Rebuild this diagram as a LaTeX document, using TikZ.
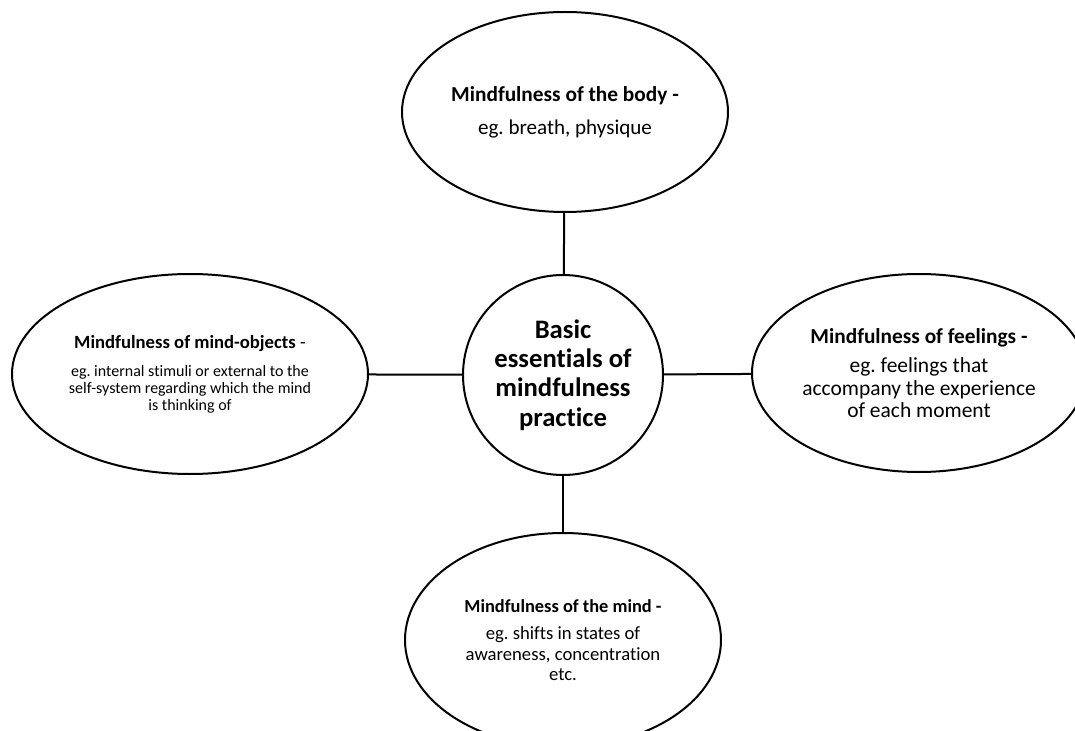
\documentclass[tikz,border=0pt]{standalone}
\usepackage{fontspec}
\setmainfont{Carlito}[Ligatures=NoCommon]
\usetikzlibrary{shapes.geometric}
\frenchspacing

\begin{document}
\begin{tikzpicture}[x=0.75pt, y=-0.75pt,
		bubble/.style={draw, ellipse, line width=1.5pt, align=center, inner sep=0pt},
		link/.style={line width=1.5pt}]
		\useasboundingbox (0,0) rectangle (1075,731);
		\begin{scope}
			\clip (0,0) rectangle (1075,731);

			\node[bubble, circle, minimum size=150pt, font=\fontsize{20}{22}\selectfont\bfseries] (core) at (563,375)
				{Basic\\ essentials of\\ mindfulness\\ practice};

			\node[bubble, minimum width=244.5pt, minimum height=150pt, font=\fontsize{15.8}{19}\selectfont] (body) at (565,112)
				{{\fontsize{16}{19}\selectfont\bfseries Mindfulness of the body -}\\[5.5pt]
				 eg. breath, physique};

			\node[bubble, minimum width=267pt, minimum height=150pt, font=\fontsize{12}{12.7}\selectfont] (objects) at (190,374)
				{{\fontsize{14}{14}\selectfont\bfseries Mindfulness of mind-objects \mdseries-}\\[8.5pt]
				 eg. internal stimuli or external to the\\
				 self-system regarding which the mind\\ is thinking of};

			\node[bubble, minimum width=250.5pt, minimum height=148.5pt, font=\fontsize{16.1}{16.8}\selectfont] (feelings) at (919,373)
				{{\fontsize{16}{17}\selectfont\bfseries Mindfulness of feelings -}\\[5.5pt]
				 eg. feelings that\\ accompany the experience\\ of each moment};

			\node[bubble, minimum width=237pt, minimum height=160.5pt, font=\fontsize{14}{15.5}\selectfont] (mind) at (563,640)
				{{\fontsize{13.8}{15}\selectfont\bfseries Mindfulness of the mind -}\\[5pt]
				 eg. shifts in states of\\ awareness, concentration\\ etc.};

			\draw[link] (body) -- (core);
			\draw[link] (objects) -- (core);
			\draw[link] (core) -- (feelings);
			\draw[link] (core) -- (mind);
		\end{scope}
	\end{tikzpicture}
\end{document}
